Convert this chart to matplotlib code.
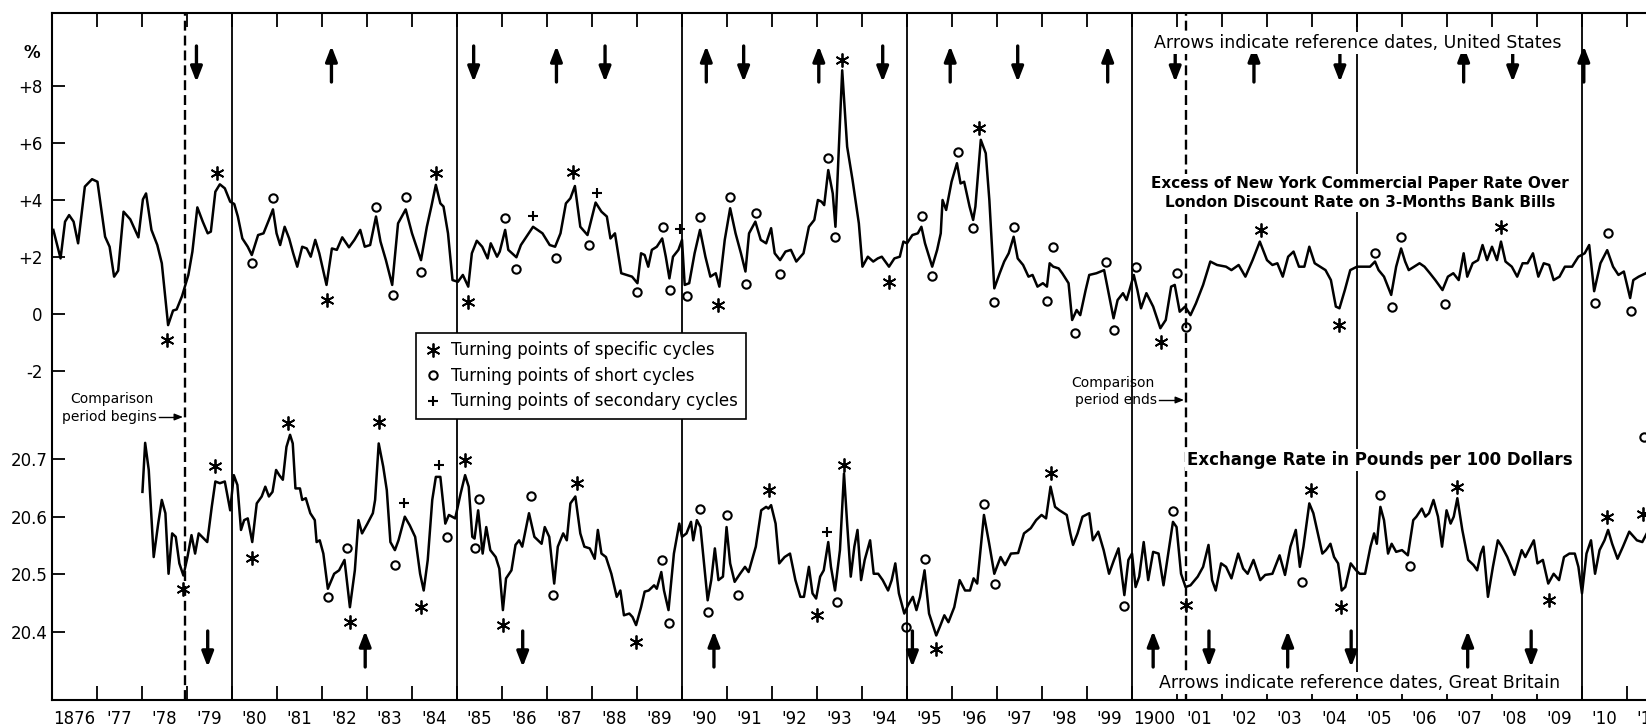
import matplotlib.pyplot as plt
from matplotlib.lines import Line2D

# Excess of New York commercial paper rate over London discount rate (%)
spread_years = [
    1876.03, 1876.19, 1876.29, 1876.38, 1876.48, 1876.58, 1876.73, 1876.89, 1877.01, 1877.18,
    1877.28, 1877.38, 1877.47, 1877.59, 1877.74, 1877.92, 1878.02, 1878.09, 1878.21, 1878.34,
    1878.44, 1878.58, 1878.69, 1878.77, 1878.89, 1879.03, 1879.12, 1879.23, 1879.35, 1879.46,
    1879.53, 1879.63, 1879.73, 1879.84, 1879.96, 1880.05, 1880.13, 1880.23, 1880.35, 1880.44,
    1880.58, 1880.70, 1880.82, 1880.91, 1880.99, 1881.07, 1881.17, 1881.27, 1881.36, 1881.45,
    1881.56, 1881.66, 1881.75, 1881.85, 1881.94, 1882.10, 1882.22, 1882.33, 1882.45, 1882.60,
    1882.72, 1882.85, 1882.95, 1883.07, 1883.20, 1883.30, 1883.42, 1883.56, 1883.69, 1883.86,
    1884.00, 1884.20, 1884.33, 1884.43, 1884.53, 1884.63, 1884.70, 1884.80, 1884.90, 1885.02,
    1885.13, 1885.25, 1885.33, 1885.44, 1885.56, 1885.68, 1885.75, 1885.89, 1885.95, 1886.07,
    1886.14, 1886.32, 1886.42, 1886.69, 1886.90, 1887.06, 1887.18, 1887.30, 1887.42, 1887.52,
    1887.62, 1887.74, 1887.90, 1888.08, 1888.21, 1888.33, 1888.41, 1888.51, 1888.65, 1888.77,
    1888.89, 1889.01, 1889.09, 1889.17, 1889.25, 1889.33, 1889.44, 1889.56, 1889.64, 1889.72,
    1889.80, 1889.92, 1890.00, 1890.06, 1890.16, 1890.28, 1890.40, 1890.52, 1890.63, 1890.75,
    1890.83, 1890.95, 1891.07, 1891.19, 1891.31, 1891.41, 1891.49, 1891.63, 1891.75, 1891.87,
    1891.98, 1892.06, 1892.18, 1892.30, 1892.42, 1892.54, 1892.70, 1892.82, 1892.94, 1893.02,
    1893.10, 1893.16, 1893.25, 1893.35, 1893.41, 1893.56, 1893.67, 1893.79, 1893.93, 1894.01,
    1894.13, 1894.25, 1894.35, 1894.44, 1894.60, 1894.72, 1894.84, 1894.92, 1895.00, 1895.12,
    1895.24, 1895.32, 1895.40, 1895.56, 1895.67, 1895.75, 1895.79, 1895.87, 1895.99, 1896.11,
    1896.19, 1896.27, 1896.39, 1896.47, 1896.52, 1896.64, 1896.75, 1896.83, 1896.94, 1897.06,
    1897.16, 1897.26, 1897.37, 1897.46, 1897.58, 1897.70, 1897.79, 1897.90, 1898.02, 1898.11,
    1898.17, 1898.25, 1898.37, 1898.45, 1898.59, 1898.67, 1898.77, 1898.85, 1898.97, 1899.05,
    1899.21, 1899.38, 1899.59, 1899.68, 1899.80, 1899.88, 1900.04, 1900.12, 1900.20, 1900.32,
    1900.47, 1900.63, 1900.75, 1900.87, 1900.95, 1901.06, 1901.18, 1901.30, 1901.42, 1901.58,
    1901.74, 1901.89, 1902.09, 1902.21, 1902.37, 1902.52, 1902.68, 1902.84, 1903.00, 1903.12,
    1903.23, 1903.35, 1903.47, 1903.59, 1903.71, 1903.83, 1903.94, 1904.06, 1904.18, 1904.30,
    1904.42, 1904.53, 1904.61, 1904.73, 1904.85, 1905.00, 1905.13, 1905.29, 1905.40, 1905.48,
    1905.60, 1905.76, 1905.87, 1905.98, 1906.07, 1906.15, 1906.27, 1906.39, 1906.50, 1906.62,
    1906.74, 1906.90, 1907.02, 1907.14, 1907.26, 1907.37, 1907.45, 1907.57, 1907.69, 1907.79,
    1907.89, 1908.00, 1908.11, 1908.20, 1908.30, 1908.44, 1908.56, 1908.68, 1908.79, 1908.91,
    1909.03, 1909.15, 1909.27, 1909.37, 1909.50, 1909.62, 1909.78, 1909.92, 1910.06, 1910.16,
    1910.27, 1910.41, 1910.56, 1910.69, 1910.81, 1910.93, 1911.07, 1911.14, 1911.26, 1911.42,
]
spread_vals = [
    2.95, 1.95, 3.24, 3.47, 3.24, 2.48, 4.47, 4.73, 4.64, 2.71,
    2.36, 1.31, 1.52, 3.59, 3.32, 2.69, 4.02, 4.23, 2.95, 2.42,
    1.78, -0.39, 0.12, 0.16, 0.63, 1.37, 2.19, 3.74, 3.24, 2.83,
    2.89, 4.29, 4.55, 4.41, 3.94, 3.86, 3.42, 2.65, 2.36, 2.07,
    2.77, 2.83, 3.30, 3.67, 2.83, 2.42, 3.06, 2.65, 2.13, 1.66,
    2.36, 2.30, 2.01, 2.60, 2.13, 1.02, 2.30, 2.25, 2.69, 2.34,
    2.60, 2.95, 2.36, 2.42, 3.42, 2.54, 1.89, 1.02, 3.18, 3.67,
    2.83, 1.89, 3.06, 3.77, 4.53, 3.88, 3.77, 2.83, 1.19, 1.13,
    1.37, 0.96, 2.13, 2.57, 2.36, 1.95, 2.48, 2.01, 2.19, 2.95,
    2.25, 1.99, 2.42, 3.06, 2.83, 2.42, 2.36, 2.83, 3.88, 4.06,
    4.49, 3.06, 2.77, 3.91, 3.59, 3.42, 2.65, 2.83, 1.43, 1.37,
    1.31, 1.08, 2.13, 2.07, 1.66, 2.25, 2.36, 2.65, 2.01, 1.25,
    2.01, 2.25, 2.60, 1.02, 1.08, 2.13, 2.95, 2.01, 1.31, 1.43,
    0.96, 2.60, 3.71, 2.83, 2.13, 1.49, 2.83, 3.24, 2.60, 2.48,
    3.01, 2.13, 1.89, 2.19, 2.25, 1.84, 2.13, 3.06, 3.30, 4.00,
    3.94, 3.82, 5.05, 4.23, 3.06, 8.55, 5.87, 4.70, 3.18, 1.66,
    2.01, 1.84, 1.95, 2.01, 1.66, 1.95, 2.01, 2.54, 2.48, 2.77,
    2.83, 3.06, 2.48, 1.66, 2.25, 2.83, 4.00, 3.65, 4.64, 5.29,
    4.58, 4.64, 3.77, 3.30, 3.77, 6.11, 5.64, 4.00, 0.90, 1.43,
    1.84, 2.13, 2.71, 1.95, 1.72, 1.31, 1.37, 0.96, 1.08, 0.96,
    1.78, 1.66, 1.60, 1.43, 1.08, -0.21, 0.14, -0.04, 0.84, 1.37,
    1.43, 1.54, -0.15, 0.49, 0.73, 0.49, 1.37, 0.84, 0.20, 0.73,
    0.26, -0.50, -0.21, 0.96, 1.02, 0.08, 0.26, -0.04, 0.37, 1.02,
    1.84, 1.72, 1.66, 1.54, 1.72, 1.31, 1.89, 2.54, 1.89, 1.72,
    1.78, 1.31, 2.01, 2.19, 1.66, 1.66, 2.36, 1.78, 1.66, 1.54,
    1.19, 0.26, 0.20, 0.84, 1.54, 1.66, 1.66, 1.66, 1.84, 1.54,
    1.31, 0.67, 1.66, 2.30, 1.84, 1.54, 1.66, 1.78, 1.66, 1.43,
    1.19, 0.84, 1.31, 1.43, 1.19, 2.13, 1.31, 1.78, 1.89, 2.42,
    1.89, 2.36, 1.89, 2.54, 1.84, 1.66, 1.31, 1.78, 1.78, 2.13,
    1.31, 1.78, 1.72, 1.19, 1.31, 1.66, 1.66, 2.01, 2.13, 2.42,
    0.80, 1.78, 2.24, 1.66, 1.37, 1.49, 0.56, 1.19, 1.31, 1.43,
]

# Exchange rate in pounds per 100 dollars
fx_years = [
    1878.01, 1878.07, 1878.15, 1878.26, 1878.36, 1878.44, 1878.52, 1878.59, 1878.67, 1878.75,
    1878.83, 1878.92, 1879.01, 1879.10, 1879.18, 1879.26, 1879.45, 1879.55, 1879.63, 1879.73,
    1879.84, 1879.96, 1880.04, 1880.12, 1880.20, 1880.27, 1880.35, 1880.45, 1880.55, 1880.66,
    1880.74, 1880.82, 1880.90, 1880.98, 1881.05, 1881.13, 1881.21, 1881.29, 1881.35, 1881.41,
    1881.51, 1881.56, 1881.64, 1881.74, 1881.84, 1881.88, 1881.95, 1882.03, 1882.13, 1882.27,
    1882.38, 1882.50, 1882.62, 1882.73, 1882.81, 1882.89, 1883.01, 1883.13, 1883.18, 1883.26,
    1883.36, 1883.44, 1883.52, 1883.62, 1883.70, 1883.84, 1883.95, 1884.07, 1884.18, 1884.26,
    1884.35, 1884.45, 1884.53, 1884.63, 1884.74, 1884.82, 1884.96, 1885.08, 1885.18, 1885.26,
    1885.34, 1885.39, 1885.47, 1885.57, 1885.65, 1885.74, 1885.86, 1885.94, 1886.02, 1886.09,
    1886.21, 1886.30, 1886.38, 1886.45, 1886.60, 1886.72, 1886.88, 1886.95, 1887.05, 1887.16,
    1887.24, 1887.36, 1887.44, 1887.52, 1887.63, 1887.74, 1887.83, 1887.95, 1888.06, 1888.13,
    1888.21, 1888.31, 1888.43, 1888.55, 1888.63, 1888.71, 1888.83, 1888.90, 1888.98, 1889.09,
    1889.17, 1889.26, 1889.38, 1889.44, 1889.54, 1889.60, 1889.70, 1889.82, 1889.94, 1890.00,
    1890.10, 1890.20, 1890.25, 1890.33, 1890.41, 1890.49, 1890.57, 1890.65, 1890.73, 1890.81,
    1890.91, 1890.99, 1891.07, 1891.17, 1891.29, 1891.40, 1891.48, 1891.64, 1891.76, 1891.87,
    1891.92, 1891.98, 1892.08, 1892.16, 1892.28, 1892.40, 1892.52, 1892.63, 1892.71, 1892.82,
    1892.90, 1892.98, 1893.07, 1893.15, 1893.25, 1893.31, 1893.40, 1893.51, 1893.60, 1893.67,
    1893.75, 1893.83, 1893.90, 1893.98, 1894.06, 1894.18, 1894.26, 1894.36, 1894.46, 1894.58,
    1894.66, 1894.74, 1894.82, 1894.94, 1895.02, 1895.13, 1895.21, 1895.29, 1895.39, 1895.49,
    1895.65, 1895.73, 1895.83, 1895.92, 1896.05, 1896.17, 1896.29, 1896.40, 1896.48, 1896.56,
    1896.71, 1896.82, 1896.94, 1897.08, 1897.18, 1897.31, 1897.47, 1897.60, 1897.75, 1897.87,
    1897.99, 1898.09, 1898.19, 1898.29, 1898.39, 1898.55, 1898.63, 1898.69, 1898.79, 1898.90,
    1899.05, 1899.13, 1899.25, 1899.37, 1899.49, 1899.60, 1899.70, 1899.83, 1899.92, 1900.00,
    1900.08, 1900.16, 1900.26, 1900.36, 1900.47, 1900.59, 1900.70, 1900.81, 1900.91, 1900.99,
    1901.09, 1901.19, 1901.30, 1901.46, 1901.58, 1901.70, 1901.78, 1901.86, 1901.98, 1902.09,
    1902.21, 1902.36, 1902.47, 1902.57, 1902.70, 1902.85, 1902.96, 1903.12, 1903.28, 1903.40,
    1903.52, 1903.64, 1903.73, 1903.81, 1903.94, 1904.03, 1904.23, 1904.31, 1904.41, 1904.49,
    1904.58, 1904.66, 1904.74, 1904.86, 1904.98, 1905.06, 1905.18, 1905.30, 1905.38, 1905.44,
    1905.52, 1905.60, 1905.69, 1905.77, 1905.87, 1906.00, 1906.13, 1906.25, 1906.32, 1906.44,
    1906.52, 1906.60, 1906.70, 1906.80, 1906.89, 1906.99, 1907.08, 1907.15, 1907.23, 1907.34,
    1907.47, 1907.59, 1907.67, 1907.75, 1907.81, 1907.91, 1908.02, 1908.13, 1908.22, 1908.34,
    1908.50, 1908.66, 1908.74, 1908.93, 1909.01, 1909.13, 1909.25, 1909.37, 1909.49, 1909.60,
    1909.72, 1909.84, 1909.92, 1910.00, 1910.10, 1910.20, 1910.29, 1910.39, 1910.50, 1910.58,
    1910.67, 1910.79, 1910.91, 1911.05, 1911.22, 1911.34, 1911.44,
]
fx_vals = [
    20.643, 20.728, 20.681, 20.530, 20.588, 20.629, 20.606, 20.501, 20.571, 20.565,
    20.519, 20.498, 20.530, 20.568, 20.536, 20.571, 20.556, 20.617, 20.661, 20.658,
    20.661, 20.611, 20.672, 20.655, 20.577, 20.594, 20.597, 20.556, 20.623, 20.635,
    20.652, 20.635, 20.643, 20.681, 20.672, 20.664, 20.721, 20.742, 20.727, 20.649,
    20.649, 20.629, 20.632, 20.606, 20.594, 20.556, 20.559, 20.536, 20.475, 20.501,
    20.507, 20.525, 20.443, 20.507, 20.594, 20.571, 20.588, 20.606, 20.629, 20.727,
    20.687, 20.646, 20.556, 20.542, 20.559, 20.600, 20.585, 20.565, 20.501, 20.472,
    20.525, 20.629, 20.669, 20.669, 20.588, 20.603, 20.597, 20.640, 20.672, 20.652,
    20.565, 20.562, 20.611, 20.536, 20.582, 20.542, 20.530, 20.510, 20.438, 20.493,
    20.507, 20.551, 20.559, 20.548, 20.606, 20.565, 20.553, 20.582, 20.565, 20.484,
    20.548, 20.571, 20.559, 20.623, 20.635, 20.571, 20.548, 20.545, 20.527, 20.577,
    20.536, 20.530, 20.501, 20.461, 20.472, 20.429, 20.432, 20.426, 20.412, 20.443,
    20.470, 20.472, 20.481, 20.475, 20.504, 20.472, 20.438, 20.536, 20.588, 20.565,
    20.571, 20.591, 20.559, 20.594, 20.582, 20.519, 20.455, 20.490, 20.545, 20.490,
    20.496, 20.582, 20.519, 20.487, 20.501, 20.513, 20.504, 20.548, 20.611, 20.617,
    20.614, 20.620, 20.588, 20.519, 20.530, 20.536, 20.490, 20.461, 20.461, 20.513,
    20.467, 20.458, 20.496, 20.507, 20.556, 20.513, 20.472, 20.542, 20.675, 20.588,
    20.496, 20.548, 20.577, 20.490, 20.525, 20.559, 20.501, 20.501, 20.490, 20.472,
    20.490, 20.519, 20.467, 20.432, 20.446, 20.461, 20.438, 20.461, 20.507, 20.432,
    20.394, 20.409, 20.429, 20.417, 20.443, 20.490, 20.472, 20.472, 20.493, 20.484,
    20.603, 20.556, 20.501, 20.530, 20.516, 20.536, 20.537, 20.571, 20.580, 20.594,
    20.603, 20.597, 20.652, 20.617, 20.611, 20.603, 20.571, 20.551, 20.571, 20.600,
    20.606, 20.559, 20.574, 20.542, 20.501, 20.525, 20.545, 20.464, 20.525, 20.536,
    20.478, 20.496, 20.556, 20.490, 20.539, 20.536, 20.481, 20.539, 20.591, 20.582,
    20.501, 20.478, 20.481, 20.496, 20.513, 20.551, 20.490, 20.472, 20.519, 20.513,
    20.493, 20.536, 20.510, 20.501, 20.525, 20.490, 20.499, 20.501, 20.533, 20.499,
    20.548, 20.577, 20.513, 20.548, 20.623, 20.606, 20.536, 20.542, 20.553, 20.530,
    20.519, 20.472, 20.478, 20.519, 20.507, 20.501, 20.501, 20.548, 20.571, 20.553,
    20.617, 20.594, 20.536, 20.553, 20.539, 20.542, 20.533, 20.594, 20.600, 20.614,
    20.600, 20.606, 20.629, 20.600, 20.548, 20.611, 20.588, 20.600, 20.632, 20.577,
    20.525, 20.516, 20.507, 20.536, 20.548, 20.461, 20.513, 20.559, 20.548, 20.530,
    20.499, 20.542, 20.530, 20.559, 20.519, 20.525, 20.484, 20.501, 20.490, 20.530,
    20.536, 20.536, 20.513, 20.467, 20.536, 20.559, 20.501, 20.542, 20.559, 20.577,
    20.553, 20.527, 20.548, 20.574, 20.559, 20.556, 20.571,
]

# Turning points on the interest-rate spread
spread_specific_years = [1878.55, 1879.67, 1882.12, 1884.53, 1885.25, 1887.58, 1890.81,
                         1893.56, 1894.59, 1896.61, 1900.65, 1902.86, 1904.61, 1908.20]
spread_specific_vals = [-0.91, 4.94, 0.49, 4.94, 0.43, 4.99, 0.32,
                        8.91, 1.13, 6.54, -0.97, 2.95, -0.39, 3.06]
spread_short_years = [1880.44, 1880.91, 1883.21, 1883.58, 1883.86, 1884.21, 1886.07, 1886.31,
                      1887.20, 1887.94, 1888.99, 1889.58, 1889.74, 1890.12, 1890.41, 1891.07,
                      1891.43, 1891.65, 1892.17, 1893.24, 1893.40, 1895.34, 1895.56, 1896.13,
                      1896.47, 1896.94, 1897.37, 1898.11, 1898.25, 1898.73, 1899.43, 1899.59,
                      1900.08, 1900.99, 1901.20, 1905.39, 1905.77, 1905.97, 1906.96, 1910.29,
                      1910.57, 1911.08]
spread_short_vals = [1.78, 4.06, 3.74, 0.67, 4.09, 1.49, 3.36, 1.57,
                     1.95, 2.42, 0.78, 3.04, 0.84, 0.63, 3.42, 4.09,
                     1.05, 3.53, 1.40, 5.46, 2.69, 3.44, 1.33, 5.70,
                     3.01, 0.43, 3.06, 0.47, 2.34, -0.68, 1.84, -0.56,
                     1.66, 1.43, -0.44, 2.13, 0.26, 2.71, 0.35, 0.40,
                     2.83, 0.12]
spread_secondary_years = [1886.69, 1888.11, 1889.96]
spread_secondary_vals = [3.44, 4.26, 2.97]

# Turning points on the exchange rate
fx_specific_years = [1878.91, 1879.63, 1880.45, 1881.25, 1882.62, 1883.26, 1884.20, 1885.18,
                     1886.02, 1887.66, 1888.98, 1891.94, 1892.99, 1893.60, 1895.65, 1898.19,
                     1901.20, 1903.97, 1904.64, 1907.23, 1909.27, 1910.55, 1911.36]
fx_specific_vals = [20.475, 20.688, 20.529, 20.762, 20.417, 20.765, 20.443, 20.698,
                    20.412, 20.658, 20.383, 20.646, 20.429, 20.690, 20.371, 20.675,
                    20.446, 20.646, 20.443, 20.652, 20.456, 20.600, 20.605]
fx_short_years = [1882.13, 1882.55, 1883.63, 1884.77, 1885.39, 1885.49, 1886.64, 1887.14,
                  1889.56, 1889.70, 1890.39, 1890.57, 1890.99, 1891.25, 1893.45, 1894.98,
                  1895.41, 1896.71, 1896.96, 1899.82, 1900.92, 1903.77, 1905.52, 1906.17,
                  1911.38]
fx_short_vals = [20.460, 20.545, 20.516, 20.565, 20.545, 20.630, 20.636, 20.464,
                 20.525, 20.415, 20.613, 20.435, 20.603, 20.464, 20.452, 20.409,
                 20.526, 20.622, 20.483, 20.445, 20.610, 20.487, 20.637, 20.514,
                 20.738]
fx_secondary_years = [1883.83, 1884.61, 1893.23]
fx_secondary_vals = [20.624, 20.690, 20.574]

# Reference dates: up arrows at peaks, down arrows at troughs
us_peaks = [1882.21, 1887.21, 1890.54, 1893.04, 1895.96, 1899.46, 1902.71, 1907.37, 1910.04]
us_troughs = [1879.21, 1885.37, 1888.29, 1891.37, 1894.46, 1897.46, 1900.96, 1904.62, 1908.46]
gb_peaks = [1882.96, 1890.71, 1900.47, 1903.46, 1907.46]
gb_troughs = [1879.46, 1886.46, 1895.12, 1901.71, 1904.87, 1908.87]

# Five-year section lines and the comparison period
section_lines = [1880, 1885, 1890, 1895, 1900, 1905, 1910]
comparison_start, comparison_end = 1878.95, 1901.2

W, H = 1646, 728
plt.rcParams['font.family'] = 'DejaVu Sans'
fig = plt.figure(figsize=(W / 100, H / 100), dpi=100)


def fxp(x):
    return x / W


def fyp(y):
    return 1 - y / H


# Axes frame in pixels; the frame runs past the right edge of the sheet
left, top, bottom = 52, 13, 700
px_per_year = 45.0
x_first, x_last = 1876, 1912
ax_width = (x_last - x_first) * px_per_year
ax = fig.add_axes([fxp(left), fyp(bottom), ax_width / W, (bottom - top) / H])
ax.set_xlim(x_first, x_last)
ax.set_ylim(-13.544, 10.561)

ax2 = ax.twinx()
ax2.set_ylim(20.2821, 21.4734)

# Section lines and comparison period
for yr in section_lines:
    ax.axvline(yr, color="black", linewidth=1.3, zorder=1)
for yr in (comparison_start, comparison_end):
    ax.axvline(yr, color="black", linewidth=1.7, linestyle=(0, (4.2, 2.1)), zorder=1)

# The two series
ax.plot(spread_years, spread_vals, color="black", linewidth=1.8, solid_joinstyle="round", zorder=3)
ax2.plot(fx_years, fx_vals, color="black", linewidth=1.8, solid_joinstyle="round", zorder=3)

star = dict(linestyle="none", marker=(6, 2, 0), markersize=10, markeredgewidth=1.3, color="black")
ring = dict(linestyle="none", marker="o", markersize=6, markeredgewidth=1.5,
            markerfacecolor="none", markeredgecolor="black")
cross = dict(linestyle="none", marker="+", markersize=6.5, markeredgewidth=1.5, color="black")

ax.plot(spread_specific_years, spread_specific_vals, **star)
ax.plot(spread_short_years, spread_short_vals, **ring)
ax.plot(spread_secondary_years, spread_secondary_vals, **cross)
ax2.plot(fx_specific_years, fx_specific_vals, **star)
ax2.plot(fx_short_years, fx_short_vals, **ring)
ax2.plot(fx_secondary_years, fx_secondary_vals, **cross)


# Reference-date arrows, placed in axes fraction vertically
def ref_arrow(year, up, lo, hi):
    tip, tail = (hi, lo) if up else (lo, hi)
    ax.annotate("", xy=(year, tip), xytext=(year, tail), xycoords=ax.get_xaxis_transform(),
                arrowprops=dict(arrowstyle="-|>,head_length=0.9,head_width=0.35", color="black",
                                linewidth=2.4, shrinkA=0, shrinkB=0, mutation_scale=10))


us_lo, us_hi = (bottom - 82) / (bottom - top), (bottom - 46) / (bottom - top)
gb_lo, gb_hi = (bottom - 667) / (bottom - top), (bottom - 631) / (bottom - top)
for yr in us_peaks:
    ref_arrow(yr, True, us_lo, us_hi)
for yr in us_troughs:
    ref_arrow(yr, False, us_lo, us_hi)
for yr in gb_peaks:
    ref_arrow(yr, True, gb_lo, gb_hi)
for yr in gb_troughs:
    ref_arrow(yr, False, gb_lo, gb_hi)

# Year ticks at the boundaries, labels centred on each year
years = list(range(x_first, x_last + 1))
ax.set_xticks(years)
ax.tick_params(axis="x", which="major", direction="in", top=True, bottom=True,
               length=10, width=1.3, labelbottom=False)
year_labels = []
for yr in years[:-1]:
    if yr in (1876, 1900):
        year_labels.append(str(yr))
    else:
        year_labels.append("'%02d" % (yr % 100))
ax.set_xticks([yr + 0.5 for yr in years[:-1]], minor=True)
ax.set_xticklabels(year_labels, minor=True)
ax.tick_params(axis="x", which="minor", length=0, labelsize=12, pad=7)

ax.set_yticks([-2, 0, 2, 4, 6, 8])
ax.set_yticklabels(["-2", "0", "+2", "+4", "+6", "+8"])
ax.tick_params(axis="y", direction="in", length=9, width=1.3, labelsize=12, pad=7)

ax2.yaxis.tick_left()
ax2.set_yticks([20.4, 20.5, 20.6, 20.7])
ax2.set_yticklabels(["20.4", "20.5", "20.6", "20.7"])
ax2.tick_params(axis="y", direction="in", length=9, width=1.3, labelsize=12, pad=3,
                left=True, right=False, labelleft=True, labelright=False)

for side in ("top", "left", "bottom"):
    ax.spines[side].set_linewidth(1.5)
ax.spines["right"].set_visible(False)
for side in ax2.spines:
    ax2.spines[side].set_visible(False)

# Legend box
handles = [Line2D([], [], **star), Line2D([], [], **ring), Line2D([], [], **cross)]
labels = ["Turning points of specific cycles", "Turning points of short cycles",
          "Turning points of secondary cycles"]
leg = ax2.legend(handles, labels, loc="upper left",
                 bbox_to_anchor=((416 - left) / ax_width, (bottom - 333) / (bottom - top)),
                 borderaxespad=0, fontsize=12, frameon=True, fancybox=False, framealpha=1,
                 edgecolor="black", handlelength=1.0, handletextpad=0.6, borderpad=0.5,
                 labelspacing=0.45)
leg.get_frame().set_linewidth(1.2)
leg.set_zorder(10)

# Annotations
white = dict(facecolor="white", edgecolor="none", pad=1.5)
fig.text(fxp(32), fyp(53), "%", fontsize=12, fontweight="bold", ha="center", va="center")
fig.text(fxp(1358), fyp(43), "Arrows indicate reference dates, United States",
         fontsize=12.5, ha="center", va="center", bbox=white)
fig.text(fxp(1360), fyp(193), "Excess of New York Commercial Paper Rate Over\n"
         "London Discount Rate on 3-Months Bank Bills",
         fontsize=11, fontweight="bold", ha="center", va="center", linespacing=1.3, bbox=white)
fig.text(fxp(1380), fyp(460), "Exchange Rate in Pounds per 100 Dollars",
         fontsize=12, fontweight="bold", ha="center", va="center", bbox=white)
fig.text(fxp(1360), fyp(683), "Arrows indicate reference dates, Great Britain",
         fontsize=12.5, ha="center", va="center", bbox=white)

fig.text(fxp(112), fyp(399), "Comparison", fontsize=10, ha="center", va="center")
fig.text(fxp(157), fyp(417), "period begins", fontsize=10, ha="right", va="center")
fig.text(fxp(1113), fyp(383), "Comparison", fontsize=10, ha="center", va="center")
fig.text(fxp(1157), fyp(400), "period ends", fontsize=10, ha="right", va="center")
for x0, x1, y in ((159, 183, 417), (1159, 1184, 400)):
    fig.add_artist(plt.Line2D([fxp(x0), fxp(x1 - 5)], [fyp(y), fyp(y)], color="black", linewidth=1))
    ax.annotate("", xy=(x1, H - y), xytext=(x1 - 7, H - y), xycoords="figure pixels",
                arrowprops=dict(arrowstyle="-|>,head_length=0.5,head_width=0.2", color="black",
                                linewidth=1, shrinkA=0, shrinkB=0, mutation_scale=10))

fig.savefig("out.png", dpi=100)
